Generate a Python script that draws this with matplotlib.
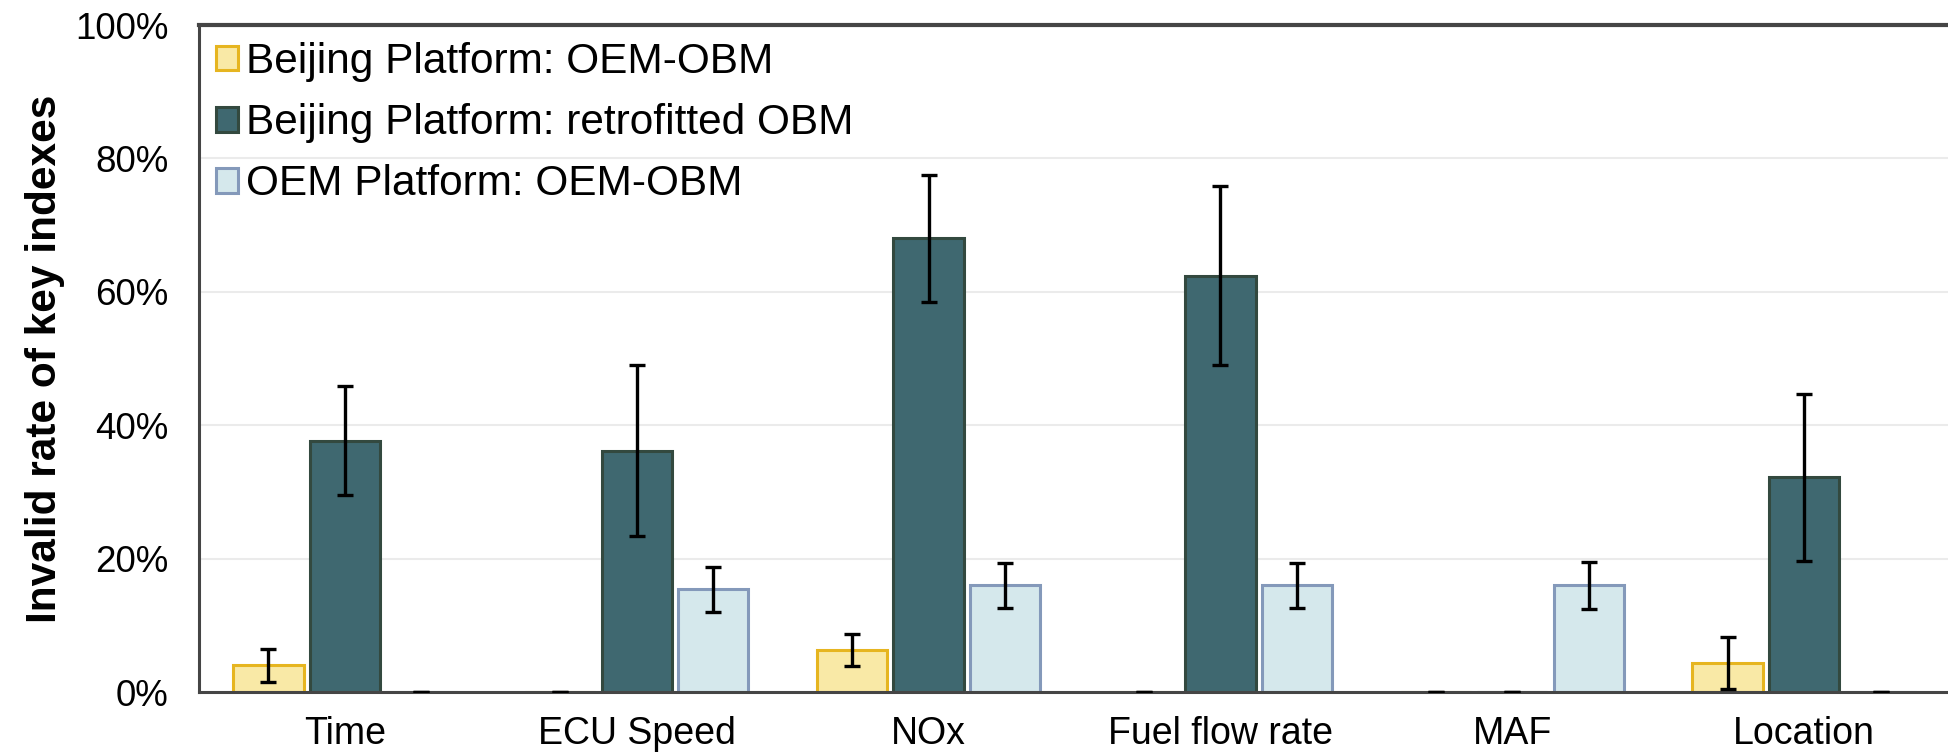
import numpy as np
import matplotlib.pyplot as plt

plt.rcParams['font.family'] = ['Liberation Sans', 'DejaVu Sans']

# invalid rate (%) of each key index, mean and error half-width
categories = ["Time", "ECU Speed", "NOx", "Fuel flow rate", "MAF", "Location"]
series = ["Beijing Platform: OEM-OBM",
          "Beijing Platform: retrofitted OBM",
          "OEM Platform: OEM-OBM"]

bj_oem = [4.0, 0.0, 6.3, 0.0, 0.0, 4.4]
bj_oem_err = [2.5, 0.0, 2.4, 0.0, 0.0, 3.9]

bj_retro = [37.7, 36.2, 68.0, 62.4, 0.0, 32.2]
bj_retro_err = [8.2, 12.8, 9.5, 13.4, 0.0, 12.5]

oem_oem = [0.0, 15.4, 16.0, 16.0, 16.0, 0.0]
oem_oem_err = [0.0, 3.4, 3.4, 3.4, 3.5, 0.0]

values = [bj_oem, bj_retro, oem_oem]
errors = [bj_oem_err, bj_retro_err, oem_oem_err]
fills = ["#F9E9A6", "#3F6870", "#D5E8EC"]
edges = ["#E6B520", "#33493F", "#8499BA"]

fig = plt.figure(figsize=(19.49, 7.55), dpi=100)
ax = fig.add_axes([0.1021, 0.0834, 0.8984, 0.8834])

x = np.arange(len(categories))
pitch = 0.262
width = 0.241
for i in range(3):
    ax.bar(x + (i - 1) * pitch, values[i], width, color=fills[i],
           edgecolor=edges[i], linewidth=2.2, label=series[i], zorder=2)
    ax.errorbar(x + (i - 1) * pitch, values[i], yerr=errors[i], fmt="none",
                ecolor="black", elinewidth=2.4, capsize=5.5, capthick=2.4,
                zorder=3)

ax.set_xlim(-0.5, 5.5)
ax.set_ylim(0, 100)
ax.set_yticks(np.arange(0, 101, 20))
ax.set_yticklabels([f"{v}%" for v in range(0, 101, 20)])
ax.set_xticks(x)
ax.set_xticklabels(categories)
ax.tick_params(axis="both", length=0, labelsize=27)
ax.tick_params(axis="y", labelsize=26.5, pad=22)
ax.tick_params(axis="x", pad=17)
ax.yaxis.grid(True, color="#EBEBEB", linewidth=1.5, zorder=0)
ax.set_axisbelow(True)

for side in ["left", "bottom", "top"]:
    ax.spines[side].set_color("#454545")
    ax.spines[side].set_linewidth(2.2)
ax.spines["top"].set_linewidth(3)
ax.spines["right"].set_visible(False)

ax.set_ylabel("Invalid rate of key indexes", fontsize=30.5, fontweight="bold",
              labelpad=7)

ax.legend(loc="upper left", fontsize=30.5, frameon=False, handlelength=0.52,
          handleheight=0.52, handletextpad=0.2, labelspacing=0.5,
          borderaxespad=0.2, borderpad=0.2)

fig.savefig("out.png", dpi=100)
